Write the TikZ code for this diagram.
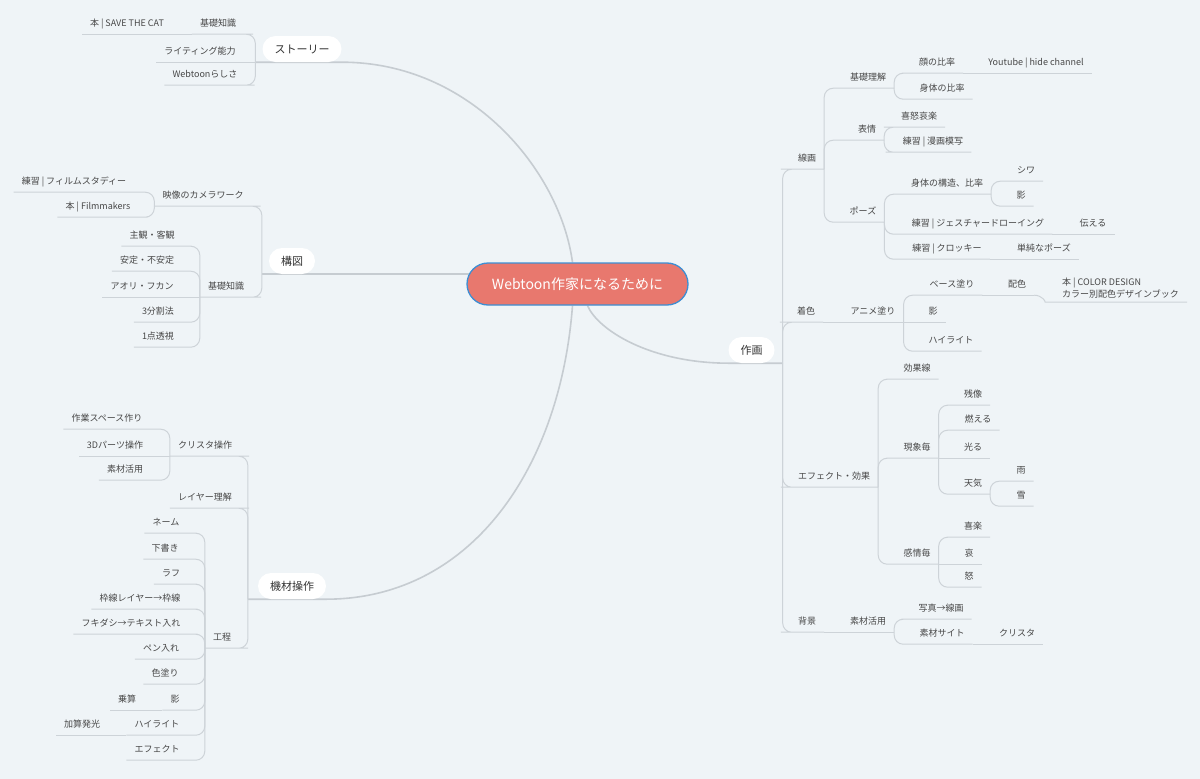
\documentclass[tikz,border=0pt]{standalone}
\usepackage{fontspec}
\setmainfont{Noto Sans CJK JP}
\usepackage{tikz}
\definecolor{mmBack}{HTML}{EFF4F7}
\definecolor{mmLine}{HTML}{CDD3D8}
\definecolor{mmTrunk}{HTML}{C6CCD1}
\definecolor{mmText}{HTML}{474747}
\definecolor{mmHub}{HTML}{E8786E}
\definecolor{mmHubEdge}{HTML}{3D8ED3}
\pgfdeclarelayer{back}
\pgfdeclarelayer{wires}
\pgfsetlayers{back,wires,main}
\tikzset{
  leaf/.style={
    font=\fontsize{9}{11}\selectfont, text=mmText,
    inner xsep=8pt, inner ysep=5.5pt, text height=8.5pt, text depth=2.5pt
  },
  notes/.style={
    font=\fontsize{9}{12}\selectfont, text=mmText, align=left,
    inner xsep=8pt, inner ysep=4pt
  },
  topic/.style={
    fill=white, rounded corners=13pt, minimum height=26pt, inner xsep=12pt,
    inner ysep=0pt, font=\fontsize{11}{13}\selectfont, text=black!80
  },
  hub/.style={
    fill=mmHub, draw=mmHubEdge, line width=1.3pt, rounded corners=21pt,
    minimum width=221pt, minimum height=42pt, font=\fontsize{14}{16}\selectfont,
    text=white
  },
  link/.style={draw=mmLine, line width=1pt, rounded corners=9pt},
  trunk/.style={draw=mmTrunk, line width=1.6pt},
  rbranch/.style={to path={|- (\tikztotarget.south west) -- (\tikztotarget.south east)}},
  lbranch/.style={to path={|- (\tikztotarget.south east) -- (\tikztotarget.south west)}},
  rchain/.style={to path={-- (\tikztotarget.south west) -- (\tikztotarget.south east)}},
  lchain/.style={to path={-- (\tikztotarget.south east) -- (\tikztotarget.south west)}}
}
\begin{document}
\begin{tikzpicture}[x=1pt,y=-1pt]
  \useasboundingbox (0,0) rectangle (1200,779);
  \begin{pgfonlayer}{back}
    \fill[mmBack] (0,0) rectangle (1200,779);
  \end{pgfonlayer}

  \node[hub] (hub) at (577.5,284) {Webtoon作家になるために};
  \node[topic] (story) at (302,49) {ストーリー};
  \node[topic] (comp) at (292,261) {構図};
  \node[topic] (kizai) at (292,586) {機材操作};
  \node[topic] (drawing) at (751.5,350) {作画};

  \coordinate (drawjoin) at ([xshift=8pt]drawing.south east);
  \coordinate (storyjoin) at ([xshift=-7pt]story.south west);
  \coordinate (compjoin) at ([xshift=-7pt]comp.south west);
  \coordinate (kizaijoin) at ([xshift=-10pt]kizai.south west);

  % ストーリー
  \node[leaf] (storybasics) at (218,23) {基礎知識};
  \node[leaf] (savecat) at (127,23) {本 | SAVE THE CAT};
  \node[leaf] (writing) at (200,51) {ライティング能力};
  \node[leaf] (webtoonness) at (205,74) {Webtoonらしさ};

  % 構図
  \node[leaf] (camera) at (203,195) {映像のカメラワーク};
  \node[leaf] (filmstudy) at (74,181) {練習 | フィルムスタディー};
  \node[leaf] (filmmakers) at (98,206) {本 | Filmmakers};
  \node[leaf] (compbasics) at (226,286) {基礎知識};
  \node[leaf] (subjective) at (152,235) {主観・客観};
  \node[leaf] (stability) at (147,260) {安定・不安定};
  \node[leaf] (aori) at (142,286) {アオリ・フカン};
  \node[leaf] (thirds) at (158,311) {3分割法};
  \node[leaf] (perspective) at (158,336) {1点透視};

  % 機材操作
  \node[leaf] (clipop) at (205,445) {クリスタ操作};
  \node[leaf] (workspace) at (107,418) {作業スペース作り};
  \node[leaf] (parts3d) at (115,445) {3Dパーツ操作};
  \node[leaf] (clipmat) at (125,469) {素材活用};
  \node[leaf] (layers) at (205,497) {レイヤー理解};
  \node[leaf] (process) at (222,637) {工程};
  \node[leaf] (name) at (166,522) {ネーム};
  \node[leaf] (draft) at (165,548) {下書き};
  \node[leaf] (rough) at (171,573) {ラフ};
  \node[leaf] (frame) at (140,598) {枠線レイヤー→枠線};
  \node[leaf] (balloon) at (131,623) {フキダシ→テキスト入れ};
  \node[leaf] (inking) at (161,648) {ペン入れ};
  \node[leaf] (paint) at (165,673) {色塗り};
  \node[leaf] (pshade) at (175,699) {影};
  \node[leaf] (multiply) at (127,699) {乗算};
  \node[leaf] (phigh) at (157,724) {ハイライト};
  \node[leaf] (addglow) at (82,724) {加算発光};
  \node[leaf] (peffect) at (157,749) {エフェクト};

  % 作画
  \node[leaf] (lineart) at (807,158) {線画};
  \node[leaf] (basics) at (868,77) {基礎理解};
  \node[leaf] (faceratio) at (937,62) {顔の比率};
  \node[leaf] (youtube) at (1036,62) {Youtube | hide channel};
  \node[leaf] (bodyratio) at (942,88) {身体の比率};
  \node[leaf] (expr) at (867,129) {表情};
  \node[leaf] (emotions) at (919,116) {喜怒哀楽};
  \node[leaf] (copyprac) at (933,141) {練習 | 漫画模写};
  \node[leaf] (pose) at (863,211) {ポーズ};
  \node[leaf] (structure) at (947,183) {身体の構造、比率};
  \node[leaf] (wrinkle) at (1026,170) {シワ};
  \node[leaf] (shade) at (1021,195) {影};
  \node[leaf] (gesture) at (978,223) {練習 | ジェスチャードローイング};
  \node[leaf] (convey) at (1093,223) {伝える};
  \node[leaf] (croquis) at (947,248) {練習 | クロッキー};
  \node[leaf] (simplepose) at (1044,248) {単純なポーズ};

  \node[leaf] (coloring) at (806,311) {着色};
  \node[leaf] (anime) at (873,311) {アニメ塗り};
  \node[leaf] (basecoat) at (952,284) {ベース塗り};
  \node[leaf] (palette) at (1017,284) {配色};
  \node[notes, anchor=south west] (colorbook) at (1054,302) {本 | COLOR DESIGN\\カラー別配色デザインブック};
  \node[leaf] (ashade) at (933,311) {影};
  \node[leaf] (highlight) at (951,340) {ハイライト};

  \node[leaf] (effect) at (834,476) {エフェクト・効果};
  \node[leaf] (speedline) at (917,368) {効果線};
  \node[leaf] (phenom) at (917,447) {現象毎};
  \node[leaf] (afterimg) at (973,394) {残像};
  \node[leaf] (burn) at (978,419) {燃える};
  \node[leaf] (glow) at (973,447) {光る};
  \node[leaf] (weather) at (973,483) {天気};
  \node[leaf] (rain) at (1021,470) {雨};
  \node[leaf] (snow) at (1021,495) {雪};
  \node[leaf] (feeling) at (917,553) {感情毎};
  \node[leaf] (joy) at (973,526) {喜楽};
  \node[leaf] (sorrow) at (969,553) {哀};
  \node[leaf] (anger) at (969,576) {怒};

  \node[leaf] (backgr) at (807,621) {背景};
  \node[leaf] (bgmat) at (868,621) {素材活用};
  \node[leaf] (photo) at (941,608) {写真→線画};
  \node[leaf] (matsite) at (942,633) {素材サイト};
  \node[leaf] (clipstudio) at (1017,633) {クリスタ};

  \begin{pgfonlayer}{wires}
    \draw[trunk] ([xshift=-5pt]hub.north) .. controls (560,170) and (470,62) .. (story.south east) -- (storyjoin);
    \draw[trunk] (hub.center |- comp.south) -- (compjoin);
    \draw[trunk] ([xshift=-5pt]hub.south) .. controls (560,470) and (470,599) .. (kizai.south east) -- (kizaijoin);
    \draw[trunk] ([xshift=10pt]hub.south) .. controls (598,330) and (650,363) .. (drawing.south west) -- (drawjoin);

    \foreach \c in {storybasics,webtoonness}
      \draw[link] (storyjoin) to[lbranch] (\c);
    \draw[link] (storyjoin) to[lchain] (writing);
    \draw[link] (storybasics.south west) to[lchain] (savecat);

    \foreach \c in {camera,compbasics}
      \draw[link] (compjoin) to[lbranch] (\c);
    \foreach \c in {filmstudy,filmmakers}
      \draw[link] (camera.south west) to[lbranch] (\c);
    \foreach \c in {subjective,stability,thirds,perspective}
      \draw[link] (compbasics.south west) to[lbranch] (\c);
    \draw[link] (compbasics.south west) to[lchain] (aori);

    \foreach \c in {clipop,layers,process}
      \draw[link] (kizaijoin) to[lbranch] (\c);
    \foreach \c in {workspace,clipmat}
      \draw[link] (clipop.south west) to[lbranch] (\c);
    \draw[link] (clipop.south west) to[lchain] (parts3d);
    \foreach \c in {name,draft,rough,frame,balloon,inking,paint,pshade,phigh,peffect}
      \draw[link] (process.south west) to[lbranch] (\c);
    \draw[link] (pshade.south west) to[lchain] (multiply);
    \draw[link] (phigh.south west) to[lchain] (addglow);

    \foreach \c in {lineart,coloring,effect,backgr}
      \draw[link] (drawjoin) to[rbranch] (\c);
    \foreach \c in {basics,expr,pose}
      \draw[link] (lineart.south east) to[rbranch] (\c);
    \foreach \c in {faceratio,bodyratio}
      \draw[link] (basics.south east) to[rbranch] (\c);
    \draw[link] (faceratio.south east) to[rchain] (youtube);
    \foreach \c in {emotions,copyprac}
      \draw[link] (expr.south east) to[rbranch] (\c);
    \foreach \c in {structure,gesture,croquis}
      \draw[link] (pose.south east) to[rbranch] (\c);
    \foreach \c in {wrinkle,shade}
      \draw[link] (structure.south east) to[rbranch] (\c);
    \draw[link] (gesture.south east) to[rchain] (convey);
    \draw[link] (croquis.south east) to[rchain] (simplepose);

    \draw[link] (coloring.south east) to[rchain] (anime);
    \foreach \c in {basecoat,highlight}
      \draw[link] (anime.south east) to[rbranch] (\c);
    \draw[link] (anime.south east) to[rchain] (ashade);
    \draw[link] (basecoat.south east) to[rchain] (palette);
    \draw[link] (palette.south east) .. controls +(8,0) and +(-8,0) .. (colorbook.south west) -- (colorbook.south east);

    \foreach \c in {speedline,phenom,feeling}
      \draw[link] (effect.south east) to[rbranch] (\c);
    \foreach \c in {afterimg,burn,weather}
      \draw[link] (phenom.south east) to[rbranch] (\c);
    \draw[link] (phenom.south east) to[rchain] (glow);
    \foreach \c in {rain,snow}
      \draw[link] (weather.south east) to[rbranch] (\c);
    \foreach \c in {joy,anger}
      \draw[link] (feeling.south east) to[rbranch] (\c);
    \draw[link] (feeling.south east) to[rchain] (sorrow);

    \draw[link] (backgr.south east) to[rchain] (bgmat);
    \foreach \c in {photo,matsite}
      \draw[link] (bgmat.south east) to[rbranch] (\c);
    \draw[link] (matsite.south east) to[rchain] (clipstudio);
  \end{pgfonlayer}
\end{tikzpicture}
\end{document}
